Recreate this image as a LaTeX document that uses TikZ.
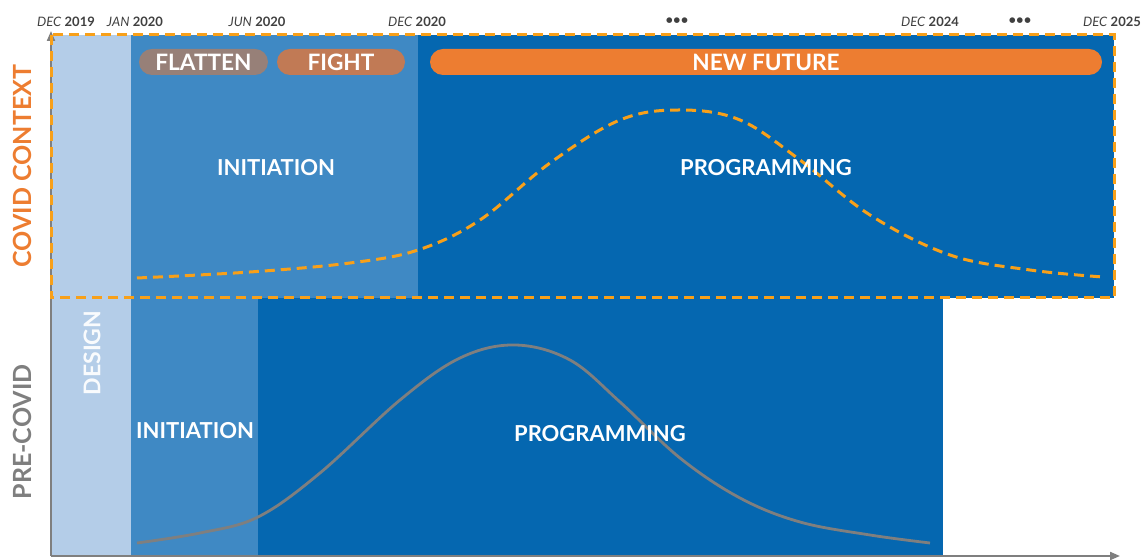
\documentclass[tikz,border=0pt]{standalone}
\usepackage{fontspec}
\setmainfont{Lato}
\usetikzlibrary{arrows.meta,positioning}
\definecolor{designblue}{HTML}{B4CDE8}
\definecolor{midblue}{HTML}{3F89C4}
\definecolor{darkblue}{HTML}{0567B0}
\definecolor{covidorange}{HTML}{ED7D31}
\definecolor{dashorange}{HTML}{F8A019}
\definecolor{flattencol}{HTML}{978078}
\definecolor{fightcol}{HTML}{C17A55}
\definecolor{axisgray}{HTML}{7F7F7F}
\tikzset{phase/.style={text=white, font=\bfseries\fontsize{11}{12}\selectfont},
pill/.style={rounded corners=6.5pt, minimum height=13pt, inner sep=0pt,
  text=white, font=\bfseries\fontsize{11.3}{12}\selectfont},
datelbl/.style={font=\fontsize{6.5}{7}\selectfont, text=black!75, inner sep=0pt},
sidelbl/.style={rotate=90, font=\bfseries\fontsize{12.5}{14}\selectfont}}

\begin{document}
\begin{tikzpicture}[x=0.5pt, y=-0.5pt]
        \useasboundingbox (0,0) rectangle (1146,560);
        % background bands
        \fill[designblue] (51,35) rectangle (131,556);
        \fill[midblue] (131,35) rectangle (418,298);
        \fill[darkblue] (418,35) rectangle (1114,298);
        \fill[midblue] (131,298) rectangle (258,556);
        \fill[darkblue] (258,298) rectangle (943,556);

        % axes
        \coordinate (o) at (51,556);
        \coordinate (ytop) at (51,31);
        \coordinate (xend) at (1120,556);
        \draw[axisgray, line width=1pt, -{Triangle[length=5pt,width=4pt]}] (o) -- (ytop);
        \draw[axisgray, line width=1pt, -{Triangle[length=5pt,width=4pt]}] (o) -- (xend);

        % curves
        \draw[axisgray, line width=1.4pt] plot[smooth, tension=0.6] coordinates {
          (137,543) (200,533) (258,517) (320,473) (400,400) (460,358) (515,345)
          (570,360) (620,402) (680,458) (740,498) (800,522) (870,535) (930,543)};
        \draw[dashorange, line width=1.5pt, dash pattern=on 5pt off 3pt] plot[smooth, tension=0.6] coordinates {
          (137,278) (250,272) (350,263) (418,250) (480,220) (550,163) (620,120)
          (680,110) (740,120) (800,160) (870,215) (950,255) (1030,270) (1103,277)};

        % covid box
        \draw[dashorange, line width=1.5pt, dash pattern=on 5pt off 3pt] (51,35) rectangle (1114,298);

        % pills
        \node[pill, fill=flattencol, minimum width=64.5pt] (flatten) at (203.5,62) {FLATTEN};
        \node[pill, fill=fightcol, minimum width=64pt] (fight) at (341,62) {FIGHT};
        \node[pill, fill=covidorange, minimum width=336pt] (future) at (766,62) {NEW FUTURE};

        % phases
        \node[phase] (initc) at (276,168) {INITIATION};
        \node[phase] (progc) at (766,168) {PROGRAMMING};
        \node[phase] (initp) at (195,431) {INITIATION};
        \node[phase] (progp) at (600,434) {PROGRAMMING};
        \node[phase, rotate=90, text=white!92!designblue, font=\bfseries\fontsize{11.5}{12}\selectfont] (design) at (92,353) {DESIGN};

        % side labels
        \node[sidelbl, text=covidorange] (covid) at (22,166) {COVID CONTEXT};
        \node[sidelbl, text=axisgray] (precovid) at (22,432) {PRE-COVID};

        % dates
        \node[datelbl] (d2019) at (66,22) {\textit{DEC} \textbf{2019}};
        \node[datelbl] (j2020) at (135,22) {\textit{JAN} \textbf{2020}};
        \node[datelbl] (jun2020) at (257,22) {\textit{JUN} \textbf{2020}};
        \node[datelbl] (d2020) at (417,22) {\textit{DEC} \textbf{2020}};
        \node[datelbl] (dots1) at (677,21) {\textbf{•••}};
        \node[datelbl] (d2024) at (930,22) {\textit{DEC} \textbf{2024}};
        \node[datelbl] (dots2) at (1020,21) {\textbf{•••}};
        \node[datelbl] (d2025) at (1112,22) {\textit{DEC} \textbf{2025}};
\end{tikzpicture}
\end{document}
